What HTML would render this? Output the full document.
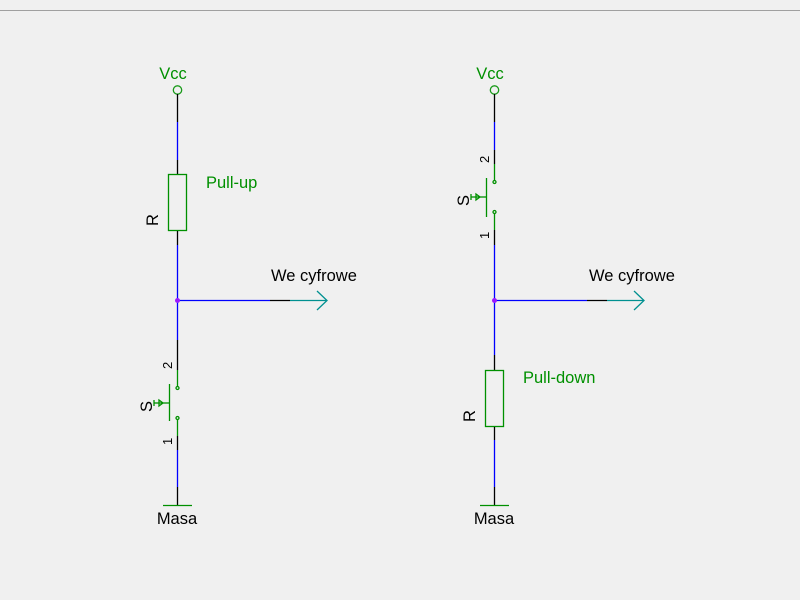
<!DOCTYPE html>
<html><head><style>
html,body{margin:0;padding:0;background:#f0f0f0;width:800px;height:600px;overflow:hidden}
svg{display:block}
text{font-family:"Liberation Sans",sans-serif}
</style></head><body>
<svg width="800" height="600" viewBox="0 0 800 600">
<rect width="800" height="600" fill="#f0f0f0"/>
<line x1="0" y1="10.5" x2="800" y2="10.5" stroke="#a0a0a0" stroke-width="1"/>
<g stroke-width="1.3" fill="none">
<!-- LEFT -->
<circle cx="177.5" cy="90" r="4.2" stroke="#1a9a1a"/>
<line x1="177.5" y1="94" x2="177.5" y2="122" stroke="#000"/>
<line x1="177.5" y1="122" x2="177.5" y2="160" stroke="#0000ff"/>
<line x1="177.5" y1="160" x2="177.5" y2="174" stroke="#000"/>
<rect x="168.5" y="174.5" width="18" height="56" stroke="#009000"/>
<line x1="177.5" y1="231" x2="177.5" y2="245" stroke="#000"/>
<line x1="177.5" y1="245" x2="177.5" y2="340" stroke="#0000ff"/>
<line x1="177.5" y1="340" x2="177.5" y2="370" stroke="#000"/>
<line x1="177.5" y1="370" x2="177.5" y2="386" stroke="#009000"/>
<circle cx="177.5" cy="388" r="1.5" stroke="#009000"/>
<line x1="169.5" y1="384" x2="169.5" y2="421" stroke="#009000"/>
<line x1="154" y1="403" x2="169.5" y2="403" stroke="#009000"/>
<line x1="154" y1="400" x2="154" y2="406" stroke="#009000"/>
<path d="M159 400 L163 403 L159 406 Z" stroke="#009000"/>
<circle cx="177.5" cy="418" r="1.5" stroke="#009000"/>
<line x1="177.5" y1="420" x2="177.5" y2="436" stroke="#009000"/>
<line x1="177.5" y1="436" x2="177.5" y2="450" stroke="#000"/>
<line x1="177.5" y1="450" x2="177.5" y2="487" stroke="#0000ff"/>
<line x1="177.5" y1="487" x2="177.5" y2="505" stroke="#000"/>
<line x1="163" y1="505.5" x2="192" y2="505.5" stroke="#009000"/>
<line x1="177.5" y1="300.5" x2="270" y2="300.5" stroke="#0000ff"/>
<line x1="270" y1="300.5" x2="290" y2="300.5" stroke="#000"/>
<line x1="290" y1="300.5" x2="326" y2="300.5" stroke="#009090"/>
<path d="M317 291 L327 300.5 L317 310" stroke="#009090"/>
<!-- RIGHT -->
<circle cx="494.5" cy="90" r="4.2" stroke="#1a9a1a"/>
<line x1="494.5" y1="94" x2="494.5" y2="122" stroke="#000"/>
<line x1="494.5" y1="122" x2="494.5" y2="150" stroke="#0000ff"/>
<line x1="494.5" y1="150" x2="494.5" y2="164" stroke="#000"/>
<line x1="494.5" y1="164" x2="494.5" y2="180" stroke="#009000"/>
<circle cx="494.5" cy="182" r="1.5" stroke="#009000"/>
<line x1="486.5" y1="178" x2="486.5" y2="217" stroke="#009000"/>
<line x1="471" y1="197" x2="486.5" y2="197" stroke="#009000"/>
<line x1="471" y1="194" x2="471" y2="200" stroke="#009000"/>
<path d="M476 194 L480 197 L476 200 Z" stroke="#009000"/>
<circle cx="494.5" cy="212" r="1.5" stroke="#009000"/>
<line x1="494.5" y1="214" x2="494.5" y2="230" stroke="#009000"/>
<line x1="494.5" y1="230" x2="494.5" y2="245" stroke="#000"/>
<line x1="494.5" y1="245" x2="494.5" y2="355" stroke="#0000ff"/>
<line x1="494.5" y1="355" x2="494.5" y2="370" stroke="#000"/>
<rect x="485.5" y="370.5" width="18" height="56" stroke="#009000"/>
<line x1="494.5" y1="427" x2="494.5" y2="440" stroke="#000"/>
<line x1="494.5" y1="440" x2="494.5" y2="487" stroke="#0000ff"/>
<line x1="494.5" y1="487" x2="494.5" y2="505" stroke="#000"/>
<line x1="480" y1="505.5" x2="509" y2="505.5" stroke="#009000"/>
<line x1="494.5" y1="300.5" x2="587" y2="300.5" stroke="#0000ff"/>
<line x1="587" y1="300.5" x2="607" y2="300.5" stroke="#000"/>
<line x1="607" y1="300.5" x2="643" y2="300.5" stroke="#009090"/>
<path d="M634 291 L644 300.5 L634 310" stroke="#009090"/>
</g>
<circle cx="177.5" cy="300.5" r="2.5" fill="#9a1aff"/>
<circle cx="494.5" cy="300.5" r="2.5" fill="#9a1aff"/>
<g font-size="16.5" fill="#009000">
<text x="173" y="79" text-anchor="middle">Vcc</text>
<text x="490" y="79" text-anchor="middle">Vcc</text>
<text x="206" y="188">Pull-up</text>
<text x="523" y="383">Pull-down</text>
</g>
<g font-size="16.5" fill="#000">
<text x="271" y="281">We cyfrowe</text>
<text x="589" y="281">We cyfrowe</text>
<text x="177" y="524" text-anchor="middle">Masa</text>
<text x="494" y="524" text-anchor="middle">Masa</text>
<text transform="translate(158,226) rotate(-90)">R</text>
<text transform="translate(475,422) rotate(-90)">R</text>
<text transform="translate(152,412) rotate(-90)">S</text>
<text transform="translate(469,206) rotate(-90)">S</text>
<text transform="translate(172,369) rotate(-90)" font-size="13">2</text>
<text transform="translate(172,445) rotate(-90)" font-size="13">1</text>
<text transform="translate(489,163) rotate(-90)" font-size="13">2</text>
<text transform="translate(489,239) rotate(-90)" font-size="13">1</text>
</g>
</svg>
</body></html>
